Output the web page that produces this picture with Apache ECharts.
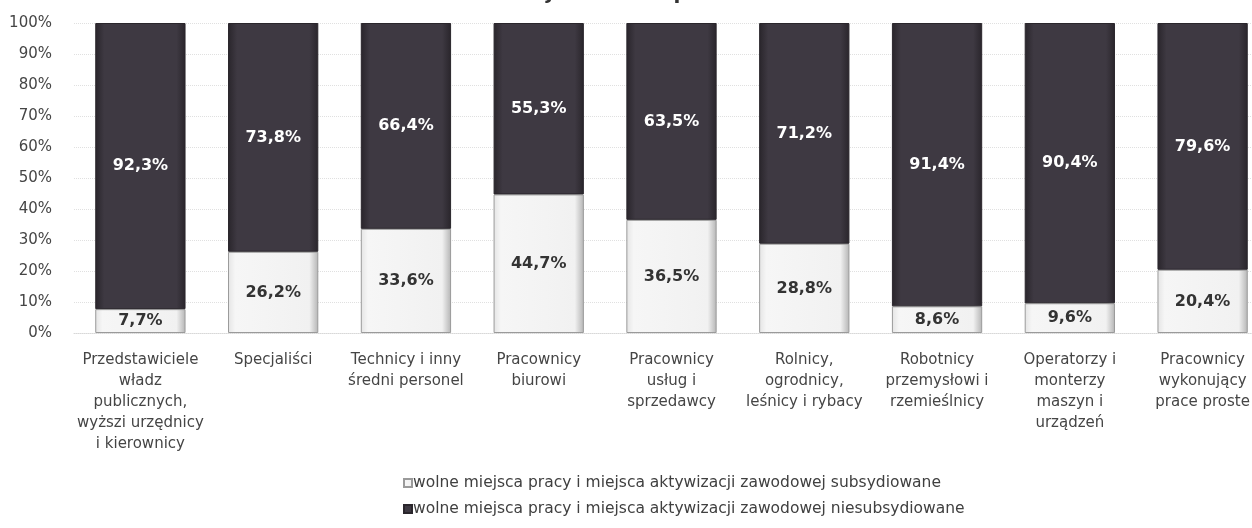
<!DOCTYPE html>
<html>
<head>
<meta charset="utf-8">
<script src="https://cdn.jsdelivr.net/npm/echarts@6/dist/echarts.min.js"></script>
<style>
html,body{margin:0;padding:0;background:#fff;overflow:hidden;}
#chart{width:1272px;height:528px;}
</style>
</head>
<body>
<div id="chart"></div>
<script>
const titleText = 'Województwo pomorskie';
const categories = [
  'Przedstawiciele\nwładz\npublicznych,\nwyższi urzędnicy\ni kierownicy',
  'Specjaliści',
  'Technicy i inny\nśredni personel',
  'Pracownicy\nbiurowi',
  'Pracownicy\nusług i\nsprzedawcy',
  'Rolnicy,\nogrodnicy,\nleśnicy i rybacy',
  'Robotnicy\nprzemysłowi i\nrzemieślnicy',
  'Operatorzy i\nmonterzy\nmaszyn i\nurządzeń',
  'Pracownicy\nwykonujący\nprace proste'
];
const seriesNames = [
  'wolne miejsca pracy i miejsca aktywizacji zawodowej subsydiowane',
  'wolne miejsca pracy i miejsca aktywizacji zawodowej niesubsydiowane'
];
const subsidized = [7.7, 26.2, 33.6, 44.7, 36.5, 28.8, 8.6, 9.6, 20.4];
const unsubsidized = [92.3, 73.8, 66.4, 55.3, 63.5, 71.2, 91.4, 90.4, 79.6];
const yTicks = [0, 10, 20, 30, 40, 50, 60, 70, 80, 90, 100];

const fmt = v => v.toFixed(1).replace('.', ',') + '%';
const chart = echarts.init(document.getElementById('chart'), null, {renderer: 'canvas'});
const font = 'DejaVu Sans, Verdana, sans-serif';

chart.setOption({
  animation: false,
  backgroundColor: '#ffffff',
  title: {
    text: titleText,
    left: 506,
    top: -22,
    textStyle: {fontFamily: font, fontSize: 20, fontWeight: 'bold', color: '#333333', lineHeight: 22}
  },
  grid: {left: 74, width: 1195, top: 23, bottom: 195, containLabel: false},
  legend: {
    orient: 'vertical',
    left: 398,
    top: 470,
    itemWidth: 8,
    itemHeight: 8,
    itemGap: 10,
    icon: 'rect',
    textStyle: {fontFamily: font, fontSize: 15.5, color: '#404040', padding: [0, 0, 0, -4]},
    data: seriesNames
  },
  xAxis: {
    type: 'category',
    data: categories,
    axisTick: {show: false},
    axisLine: {show: true, lineStyle: {color: '#d8d8d8', type: 'dotted'}},
    axisLabel: {interval: 0, fontFamily: font, fontSize: 15, color: '#454545', lineHeight: 21, margin: 17}
  },
  yAxis: {
    type: 'value',
    min: yTicks[0],
    max: yTicks[yTicks.length - 1],
    interval: 10,
    axisLine: {show: false},
    axisTick: {show: false},
    splitLine: {show: true, lineStyle: {color: '#e0e0e0', type: 'dotted'}},
    axisLabel: {formatter: '{value}%', fontFamily: font, fontSize: 15, color: '#454545', margin: 22}
  },
  series: [
    {
      name: seriesNames[0],
      type: 'bar',
      stack: 'total',
      barCategoryGap: '32%',
      data: subsidized,
      itemStyle: {
        color: {type: 'linear', x: 0, y: 0, x2: 1, y2: 0, colorStops: [
          {offset: 0, color: '#e4e4e4'}, {offset: 0.08, color: '#f6f6f6'},
          {offset: 0.9, color: '#f1f1f1'}, {offset: 1, color: '#b4b4b4'}]},
        borderColor: '#9a9a9a',
        borderWidth: 1
      },
      label: {
        show: true, position: 'inside', formatter: p => fmt(p.value),
        fontFamily: font, fontSize: 16, fontWeight: 'bold', color: '#333333'
      }
    },
    {
      name: seriesNames[1],
      type: 'bar',
      stack: 'total',
      barCategoryGap: '32%',
      data: unsubsidized,
      itemStyle: {
        color: {type: 'linear', x: 0, y: 0, x2: 1, y2: 0, colorStops: [
          {offset: 0, color: '#29252b'}, {offset: 0.1, color: '#3e3942'},
          {offset: 0.9, color: '#3e3942'}, {offset: 1, color: '#29252b'}]},
        borderColor: '#2a262c',
        borderWidth: 1
      },
      label: {
        show: true, position: 'inside', formatter: p => fmt(p.value),
        fontFamily: font, fontSize: 16, fontWeight: 'bold', color: '#ffffff'
      }
    }
  ]
});
</script>
</body>
</html>
